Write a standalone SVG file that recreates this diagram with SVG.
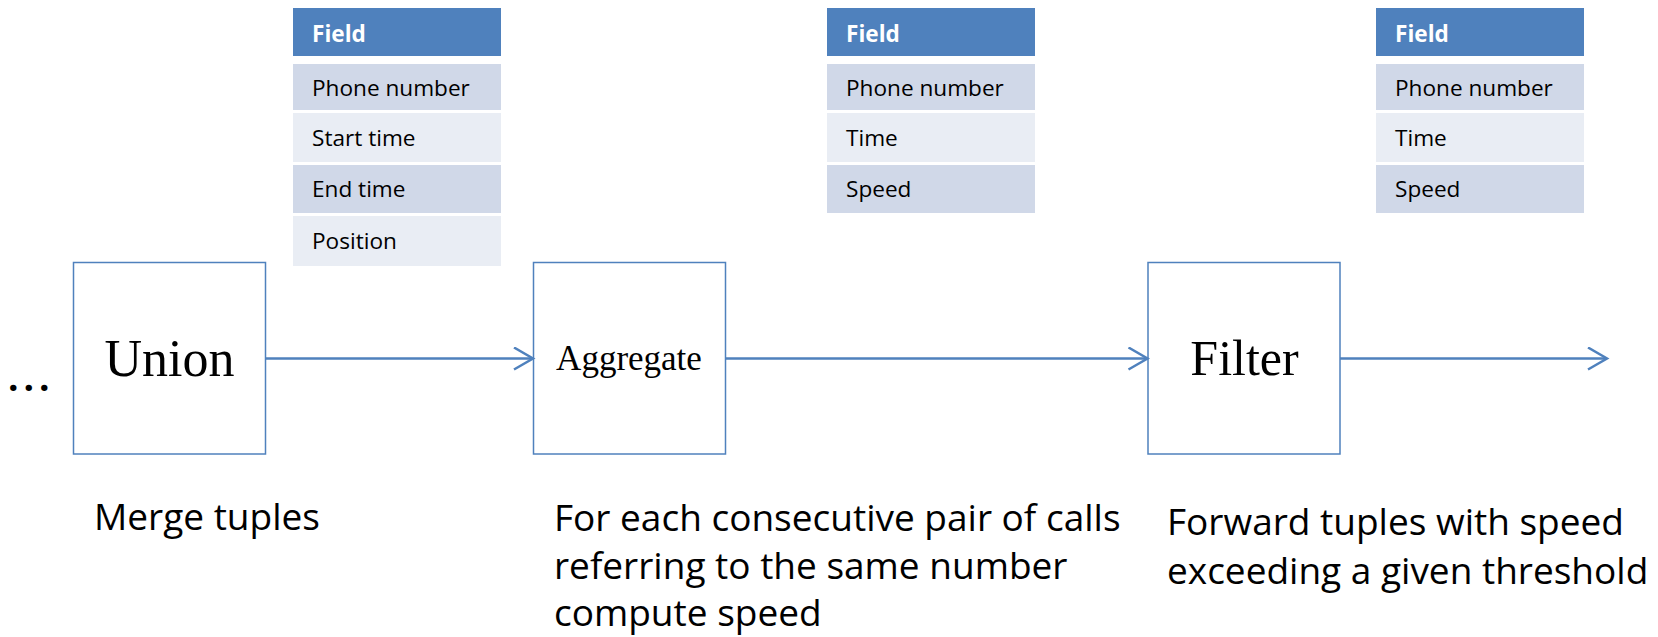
<svg xmlns="http://www.w3.org/2000/svg" width="1658" height="637" viewBox="0 0 1658 637">
<style>
.box{fill:#fff;stroke:#4F81BD;stroke-width:1.5}
.hdr{fill:#4F81BD}
.r1{fill:#D0D8E8}
.r2{fill:#E9EDF4}
.th{font-family:"Open Sans","Liberation Sans",sans-serif;font-weight:bold;font-size:22.6px;fill:#fff}
.td{font-family:"Open Sans","Liberation Sans",sans-serif;font-size:22.6px;fill:#000}
.op{font-family:"Liberation Serif","DejaVu Serif",serif;fill:#000;text-anchor:middle}
.desc{font-family:"Open Sans","Liberation Sans",sans-serif;font-size:37px;fill:#000}
.conn{stroke:#4F81BD;stroke-width:2.5;fill:none}
</style>
<defs>
<marker id="arr" markerUnits="userSpaceOnUse" markerWidth="24" markerHeight="26" refX="21" refY="12" orient="auto">
<path d="M2,1 L21,12 L2,23" fill="none" stroke="#4F81BD" stroke-width="2.5"/>
</marker>
</defs>

<g id="table1">
<rect class="hdr" x="293" y="8" width="208" height="48"/>
<rect class="r1" x="293" y="64" width="208" height="46"/>
<rect class="r2" x="293" y="113" width="208" height="49"/>
<rect class="r1" x="293" y="165" width="208" height="48"/>
<rect class="r2" x="293" y="216" width="208" height="50"/>
<text class="th" x="312" y="41.7">Field</text>
<text class="td" x="312" y="95.7">Phone number</text>
<text class="td" x="312" y="146">Start time</text>
<text class="td" x="312" y="197.3">End time</text>
<text class="td" x="312" y="249.3">Position</text>
</g>

<g id="table2">
<rect class="hdr" x="827" y="8" width="208" height="48"/>
<rect class="r1" x="827" y="64" width="208" height="46"/>
<rect class="r2" x="827" y="113" width="208" height="49"/>
<rect class="r1" x="827" y="165" width="208" height="48"/>
<text class="th" x="846" y="41.7">Field</text>
<text class="td" x="846" y="95.7">Phone number</text>
<text class="td" x="846" y="146">Time</text>
<text class="td" x="846" y="197.3">Speed</text>
</g>

<g id="table3">
<rect class="hdr" x="1376" y="8" width="208" height="48"/>
<rect class="r1" x="1376" y="64" width="208" height="46"/>
<rect class="r2" x="1376" y="113" width="208" height="49"/>
<rect class="r1" x="1376" y="165" width="208" height="48"/>
<text class="th" x="1395" y="41.7">Field</text>
<text class="td" x="1395" y="95.7">Phone number</text>
<text class="td" x="1395" y="146">Time</text>
<text class="td" x="1395" y="197.3">Speed</text>
</g>

<g id="ellipsis">
<text class="desc" x="8" y="391" font-size="54" font-weight="bold" letter-spacing="5">...</text>
</g>

<g id="union">
<rect class="box" x="73.5" y="262.5" width="192" height="191.5"/>
<text class="op" x="169.5" y="376" font-size="52">Union</text>
</g>

<g id="aggregate">
<rect class="box" x="533.5" y="262.5" width="192" height="191.5"/>
<text class="op" x="629" y="369.5" font-size="35">Aggregate</text>
</g>

<g id="filter">
<rect class="box" x="1148" y="262.5" width="192" height="191.5"/>
<text class="op" x="1244.5" y="375" font-size="50">Filter</text>
</g>

<g id="connectors">
<line class="conn" x1="265.5" y1="358.5" x2="533" y2="358.5" marker-end="url(#arr)"/>
<line class="conn" x1="725.5" y1="358.5" x2="1147.5" y2="358.5" marker-end="url(#arr)"/>
<line class="conn" x1="1340" y1="358.5" x2="1607" y2="358.5" marker-end="url(#arr)"/>
</g>

<g id="labels">
<text class="desc" x="94" y="530">Merge tuples</text>
<text class="desc" x="554" y="531">For each consecutive pair of calls</text>
<text class="desc" x="554" y="579">referring to the same number</text>
<text class="desc" x="554" y="626">compute speed</text>
<text class="desc" x="1167" y="535">Forward tuples with speed</text>
<text class="desc" x="1167" y="584">exceeding a given threshold</text>
</g>
</svg>
